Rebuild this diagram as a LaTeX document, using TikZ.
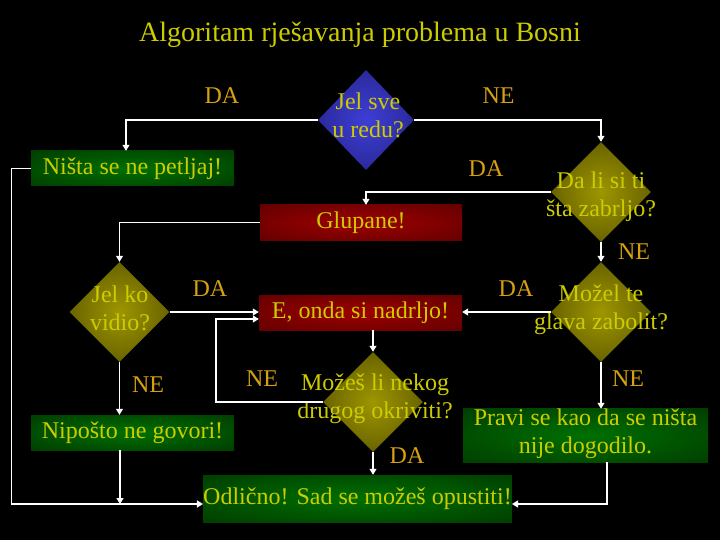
\documentclass[tikz,border=0pt]{standalone}
\usepackage{fontspec}
\setmainfont{Liberation Serif}
\usetikzlibrary{shapes.geometric,arrows.meta}
\definecolor{txtc}{RGB}{204,204,0}
\definecolor{lblc}{RGB}{214,160,16}
\definecolor{ginner}{RGB}{0,112,0}
\definecolor{gouter}{RGB}{0,42,0}
\definecolor{rinner}{RGB}{158,0,0}
\definecolor{router}{RGB}{78,0,0}
\definecolor{oinner}{RGB}{158,150,0}
\definecolor{oouter}{RGB}{52,49,0}
\definecolor{binner}{RGB}{62,62,215}
\definecolor{bouter}{RGB}{22,22,95}
\pgfdeclareradialshading{gshade}{\pgfpoint{0bp}{0bp}}{color(0bp)=(ginner); color(50bp)=(gouter)}
\pgfdeclareradialshading{rshade}{\pgfpoint{0bp}{0bp}}{color(0bp)=(rinner); color(50bp)=(router)}
\pgfdeclareradialshading{oshade}{\pgfpoint{0bp}{0bp}}{color(0bp)=(oinner); color(50bp)=(oouter)}
\pgfdeclareradialshading{bshade}{\pgfpoint{0bp}{0bp}}{color(0bp)=(binner); color(50bp)=(bouter)}
\tikzset{
  big/.style={font=\fontsize{24}{28}\selectfont},
  box/.style={rectangle, inner sep=0pt, text=txtc, big, align=center,
    execute at begin node=\strut, execute at end node=\strut},
  gbox/.style={box, shading=gshade},
  rbox/.style={box, shading=rshade},
  dia/.style={diamond, inner sep=0pt, minimum width=100pt, minimum height=100pt},
  odia/.style={dia, shading=oshade},
  bdia/.style={dia, shading=bshade},
  dtxt/.style={text=txtc, big, align=center, inner sep=0pt,
    execute at begin node=\strut, execute at end node=\strut},
  lbl/.style={text=lblc, big, inner sep=0pt, anchor=base},
  conn/.style={draw=white, line width=1.2pt, -{Triangle[width=7pt,length=6pt]}}
}
\begin{document}
\begin{tikzpicture}[x=1pt,y=-1pt]
\path[use as bounding box, fill=black] (0,0) rectangle (720,540);
\node[text=txtc, font=\fontsize{28}{33}\selectfont, inner sep=0pt, anchor=base] (title) at (360,42) {Algoritam rješavanja problema u Bosni};
% diamonds
\node[bdia, minimum width=96pt] (d1) at (366,120) {};
\node[odia] (d2) at (601,192) {};
\node[odia] (d3) at (119.5,312) {};
\node[odia] (d4) at (601,312) {};
\node[odia] (d5) at (373,402) {};
\node[dtxt] (t1) at (368,118.9) {Jel sve\\u redu?};
\node[dtxt] (t2) at (601,198.4) {Da li si ti\\šta zabrljo?};
\node[dtxt] (t3) at (120,312) {Jel ko\\vidio?};
\node[dtxt] (t4) at (601,311) {Možel te\\glava zabolit?};
\node[dtxt] (t5) at (375,400.5) {Možeš li nekog\\drugog okriviti?};
% boxes
\node[gbox, minimum width=203pt, minimum height=35pt] (b1) at (132.5,168.5) {Ništa se ne petljaj!};
\node[rbox, minimum width=202pt, minimum height=35pt] (b2) at (361,222.5) {Glupane!};
\node[rbox, minimum width=203pt, minimum height=35pt] (b3) at (360.5,312.5) {E, onda si nadrljo!};
\node[gbox, minimum width=203pt, minimum height=35pt] (b4) at (132.5,432.5) {Nipošto ne govori!};
\node[gbox, minimum width=305pt, minimum height=47pt] (b5) at (357.5,498.5) {Odlično! Sad se možeš opustiti!};
\node[gbox, minimum width=245pt, minimum height=53pt] (b6) at (585.5,435.5) {Pravi se kao da se ništa\\nije dogodilo.};
% labels
\node[lbl] (l1) at (222,104) {DA};
\node[lbl] (l2) at (498.5,104) {NE};
\node[lbl] (l3) at (486,177) {DA};
\node[lbl] (l4) at (634,259) {NE};
\node[lbl] (l5) at (210,296) {DA};
\node[lbl] (l6) at (516,296) {DA};
\node[lbl] (l7) at (148,392) {NE};
\node[lbl] (l8) at (262,386) {NE};
\node[lbl] (l9) at (407,463) {DA};
\node[lbl] (l10) at (628,386) {NE};
% connectors
\coordinate (lp) at (216,319);
\coordinate (bl) at ([yshift=-5.5pt]b5.west);
\coordinate (br) at ([yshift=-5.5pt]b5.east);
\coordinate (b4s) at ([xshift=-12.5pt]b4.south);
\coordinate (b6s) at ([xshift=21.5pt]b6.south);
\draw[conn] (d1.west) -| ([xshift=-6.5pt]b1.north);
\draw[conn] (d1.east) -| (d2.north);
\draw[conn] (d2.west) -| ([xshift=5pt]b2.north);
\draw[conn] (b2.west) -| (d3.north);
\draw[conn] (d3.east) -- (d3.east -| b3.west);
\draw[conn] (d5.west) -| (lp) -- (lp -| b3.west);
\draw[conn] (b3.south -| d5.north) -- (d5.north);
\draw[conn] (d5.south) -- (d5.south |- b5.north);
\draw[conn] (d2.south) -- (d4.north);
\draw[conn] (d4.west) -- (d4.west -| b3.east);
\draw[conn] (d4.south) -- (d4.south |- b6.north);
\draw[conn] (b6s) |- (br);
\draw[conn] (b1.west) -- ++(-19,0) |- (bl);
\draw[conn] (d3.south) -- (d3.south |- b4.north);
\draw[conn] (b4s) -- (b4s |- bl);
\end{tikzpicture}
\end{document}
